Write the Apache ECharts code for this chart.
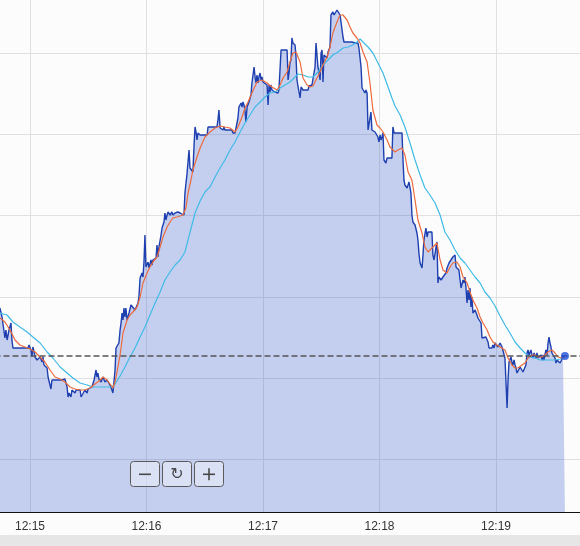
<!DOCTYPE html>
<html><head><meta charset="utf-8">
<script src="https://cdn.jsdelivr.net/npm/echarts@6/dist/echarts.min.js"></script>
<style>html,body{margin:0;padding:0;background:#fff}#c{width:580px;height:546px}</style>
</head><body><div id="c"></div>
<script>
// x values: seconds after 12:15:00 ; y values: price in chart units (no y labels shown)
const timeLabels = ['12:14','12:15','12:16','12:17','12:18','12:19','12:20'];

const priceT = [-15.5,-14.4,-12.9,-12.4,-11.8,-10.8,-9.8,-9.3,-8.8,-1.0,-0.5,0.5,1.0,1.5,2.1,2.6,3.6,4.1,5.2,6.2,6.7,7.2,8.8,9.3,9.8,10.8,11.3,12.9,13.9,14.4,16.5,18.0,19.1,19.6,20.1,21.1,21.6,22.1,23.2,23.7,25.8,26.3,27.3,28.3,29.4,29.9,30.9,31.9,33.0,34.0,34.5,35.0,35.5,36.6,37.6,38.6,39.7,41.2,42.2,42.7,43.8,44.3,45.3,45.8,46.4,46.9,47.4,47.9,48.4,48.9,49.4,50.0,51.0,52.0,53.0,54.1,55.1,55.6,56.1,56.7,57.2,57.7,58.2,58.7,59.2,59.7,60.8,61.3,62.3,62.8,63.3,63.9,64.9,65.4,65.9,66.4,67.5,68.0,68.5,69.0,69.5,70.0,70.6,71.1,72.1,73.1,73.6,74.7,76.2,77.3,78.3,79.3,79.8,80.9,81.4,81.9,82.4,82.9,83.4,83.9,84.5,85.0,85.5,86.0,86.5,87.6,91.2,91.7,96.3,96.8,97.3,97.9,98.4,99.4,99.9,100.4,104.0,104.5,105.6,106.6,107.1,107.6,108.7,109.2,109.7,110.2,110.7,111.2,111.8,112.3,112.8,113.8,114.3,114.8,115.4,115.9,116.4,116.9,117.4,117.9,118.5,119.0,119.5,120.0,121.0,122.1,122.6,123.1,123.6,124.1,124.6,125.1,126.2,127.2,127.7,128.2,129.3,132.4,132.9,133.4,133.9,134.4,134.9,135.4,136.5,137.0,137.5,138.0,138.5,139.1,139.6,140.6,143.2,143.7,144.7,145.2,145.7,146.8,147.3,147.8,148.3,148.8,149.4,149.9,150.4,150.9,151.4,152.4,153.0,153.5,154.0,154.5,155.0,155.5,156.0,156.6,157.6,158.1,158.6,159.1,159.7,160.2,160.7,161.2,161.7,165.8,167.4,168.9,169.4,170.0,170.5,171.0,172.0,172.5,173.0,173.6,174.1,175.1,175.6,176.1,177.7,178.7,179.2,179.7,180.3,180.8,181.3,181.8,182.3,183.3,183.9,186.4,186.9,187.5,191.6,192.1,192.6,193.1,194.2,194.7,195.2,195.7,196.2,196.7,197.2,198.3,199.3,199.8,200.3,200.9,201.9,202.4,202.9,203.9,204.5,205.0,207.0,207.5,208.1,209.1,209.6,210.1,210.6,211.7,212.2,212.7,213.7,214.2,214.8,215.8,216.3,216.8,217.8,218.9,219.4,220.4,220.9,221.5,222.0,222.5,223.0,223.5,224.0,224.5,225.1,225.6,226.1,226.6,227.1,227.6,228.1,229.2,230.2,230.7,231.2,232.3,232.8,234.8,235.9,236.4,237.9,238.4,239.0,239.5,240.5,241.0,242.1,243.1,244.1,244.6,245.1,245.7,246.2,246.7,247.7,248.2,248.7,249.3,249.8,250.3,250.8,251.8,252.4,253.4,253.9,254.9,255.4,256.0,256.5,257.0,258.0,258.5,259.0,259.6,260.6,261.1,261.6,262.1,263.2,263.7,264.2,264.7,265.7,266.3,266.8,267.3,267.8,268.3,268.8,269.3,270.4,270.9,271.4,271.9,272.4,273.0,274.0,274.5,275.5];
const priceV = [204,195,174,182,172,182,189,172,164,164,167,162,155,165,160,155,152,150,155,150,155,147,144,135,137,123,132,132,134,132,132,133,125,115,119,115,122,122,119,122,122,115,115,122,119,123,122,125,132,142,135,139,133,130,135,130,132,127,122,119,142,164,163,169,182,189,199,192,204,195,204,192,199,207,207,202,204,209,215,234,232,239,235,250,277,245,250,244,252,247,252,254,254,267,255,265,277,284,287,290,299,292,297,300,297,300,297,299,300,299,300,297,319,339,340,362,344,342,345,340,367,385,380,372,379,377,377,385,385,392,402,384,385,382,385,382,382,379,379,380,394,405,409,405,410,407,402,390,405,407,410,417,429,429,445,435,429,437,429,435,439,432,435,430,429,427,407,427,420,427,422,424,420,422,419,422,462,462,432,439,449,452,474,469,467,455,432,426,424,414,425,422,422,426,425,427,429,445,469,470,445,440,432,459,462,430,457,455,454,460,462,465,497,497,500,497,497,502,503,502,497,499,497,475,470,470,469,469,464,462,445,424,422,419,422,419,382,382,400,382,380,380,375,370,377,372,375,379,352,349,354,354,385,379,379,352,332,327,324,327,330,332,319,297,290,287,279,272,259,249,244,257,272,284,275,280,280,257,252,265,270,229,235,232,230,235,234,239,244,249,247,250,255,257,245,245,242,232,224,224,232,229,235,225,209,222,212,224,205,215,199,202,197,194,195,189,174,175,170,164,164,167,164,169,167,165,169,165,164,154,132,104,132,150,155,150,147,152,147,144,139,139,145,145,140,140,147,159,162,157,162,157,154,159,154,159,154,152,157,152,157,152,162,157,169,175,169,165,159,157,154,149,152,150,154,149,149,155,156];

// short moving-average line (orange)
const fastT = [-15.5,-12.9,-10.3,-7.7,-5.2,-2.6,0,2.6,5.2,7.7,10.3,12.9,15.5,18.0,20.6,23.2,25.8,28.3,30.9,33.5,36.1,37.6,39.7,41.2,42.7,43.8,44.8,46.4,47.9,50.0,51.5,53.0,55.1,56.7,58.2,60.3,61.8,63.3,65.4,67.0,68.5,70.6,72.1,73.6,75.7,77.3,78.8,80.3,81.4,82.9,83.9,86.0,87.6,90.1,92.7,95.3,97.9,100.4,103.0,105.6,107.1,109.2,110.7,112.3,114.3,116.9,119.5,122.1,124.6,127.2,128.8,130.3,132.4,133.9,135.4,137.0,138.0,139.1,140.6,142.7,144.2,145.7,147.8,149.4,150.9,153.0,154.5,156.0,158.1,159.7,161.2,163.3,164.8,166.3,168.4,170.0,171.5,173.6,175.1,176.6,178.7,180.3,181.8,183.9,185.4,188.0,189.5,191.6,193.1,194.7,196.7,198.3,199.8,201.9,203.4,205.0,207.0,209.6,211.2,212.7,214.8,216.3,217.8,219.9,221.5,223.0,225.1,226.6,228.1,230.2,231.8,233.3,235.4,236.9,238.4,240.5,242.1,244.6,246.2,248.2,249.8,251.3,253.4,254.9,256.5,258.5,260.1,261.6,263.7,265.2,266.8,268.8,270.4,271.9,274.0,275.5];
const fastV = [194,190,182,172,167,165,163,160,155,150,142,135,133,130,125,123,122,122,124,128,132,135,132,128,124,130,140,157,179,192,197,200,205,215,229,239,245,250,255,265,275,285,290,294,295,296,297,304,319,332,342,355,364,375,380,384,386,385,384,380,385,395,404,410,419,430,432,429,425,422,427,434,440,450,459,460,459,450,434,427,425,426,434,440,447,455,465,479,490,497,497,492,485,479,474,469,460,450,429,402,387,384,380,372,365,360,362,364,357,340,332,312,292,279,265,260,264,269,252,242,239,245,249,250,245,235,229,220,212,204,195,189,182,175,170,167,165,162,154,147,144,144,147,149,154,157,157,155,155,157,160,162,159,155,154,155];

// long moving-average line (cyan)
const slowT = [-15.5,-11.8,-8.8,-5.2,-1.5,1.5,5.2,8.8,11.8,15.5,19.1,22.1,25.8,29.4,32.4,36.1,39.7,42.2,43.8,46.4,48.9,51.5,54.1,56.7,59.2,61.8,64.4,67.0,69.5,72.1,74.7,77.3,79.8,81.4,83.4,85.0,87.6,90.1,92.7,95.3,97.9,100.4,103.0,105.6,108.2,110.7,113.3,115.9,118.5,121.0,123.6,126.2,128.8,131.3,133.9,136.5,138.0,140.6,143.2,145.7,148.3,150.9,153.5,156.0,158.6,161.2,163.8,166.3,168.4,170.0,171.5,174.1,176.6,179.2,181.8,184.4,186.4,188.0,190.6,193.1,195.7,198.3,200.9,203.4,206.0,208.6,211.2,213.7,216.3,218.9,221.5,224.0,226.6,229.2,231.8,234.3,236.9,239.5,242.1,244.6,247.2,249.8,252.4,254.9,257.5,260.1,262.7,265.2,267.8,270.4,273.0,274.5];
const slowV = [199,197,190,185,180,175,169,160,154,145,139,134,129,127,125,125,125,125,128,136,145,155,164,175,185,197,209,220,232,240,247,252,260,272,287,299,311,320,325,335,344,352,362,370,380,389,397,405,410,415,419,420,424,427,430,435,438,437,435,435,440,447,452,457,460,464,465,467,470,473,470,465,459,449,439,425,414,406,397,385,369,352,337,324,317,309,297,280,272,262,254,249,242,235,229,220,214,206,196,187,179,170,164,159,155,154,152,152,152,152,153,154];

const zip = (a, b) => a.map((t, i) => [t, b[i]]);
const price = zip(priceT, priceV);
const lastPoint = price[price.length - 1];

const chart = echarts.init(document.getElementById('c'), null, { renderer: 'canvas' });

const glyphColor = '#484848';
function buttonBox(x) {
  return { type: 'rect', x: x, y: 0, z: 100, shape: { x: 0.5, y: 0.5, width: 29, height: 25, r: 3 },
    style: { fill: 'rgba(236,240,250,0.55)', stroke: '#5a5a5a', lineWidth: 1 } };
}
function bar(x, y, w, h) {
  return { type: 'rect', x: x, y: y, z: 101, shape: { x: 0, y: 0, width: w, height: h }, style: { fill: glyphColor } };
}

chart.setOption({
  animation: false,
  backgroundColor: '#fcfcfc',
  grid: [
    { left: -86.5, right: -10, top: 0, bottom: 34, outerBoundsMode: 'none', containLabel: false },
    { left: 0, right: 0, top: 53, height: 406.5, outerBoundsMode: 'none', containLabel: false }
  ],
  xAxis: [
    { type: 'value', gridIndex: 0, min: -60, max: 288.41, interval: 60,
      axisLine: { show: true, onZero: false, lineStyle: { color: '#111', width: 1 } },
      axisTick: { show: false },
      axisLabel: { color: '#333', fontSize: 12, fontFamily: '"Liberation Sans", Arial, sans-serif', margin: 9,
        showMaxLabel: false,
        formatter: v => timeLabels[Math.round((v + 60) / 60)] || '' },
      splitLine: { show: true, lineStyle: { color: '#e0e0e0', width: 1 } } },
    { type: 'value', gridIndex: 1, min: 0, max: 1, show: false }
  ],
  yAxis: [
    { type: 'value', gridIndex: 0, min: 0, max: 512, show: false },
    { type: 'value', gridIndex: 1, min: 0, max: 5, interval: 1,
      axisLine: { show: false }, axisTick: { show: false }, axisLabel: { show: false },
      splitLine: { show: true, lineStyle: { color: '#e0e0e0', width: 1 } } }
  ],
  series: [
    { type: 'line', name: 'price', xAxisIndex: 0, yAxisIndex: 0, data: price,
      showSymbol: false, symbol: 'none', z: 2,
      lineStyle: { color: '#1d3faf', width: 1.4 },
      areaStyle: { color: 'rgba(50,90,210,0.28)', opacity: 1, origin: 'start' },
      markLine: { silent: true, symbol: ['none', 'none'], label: { show: false },
        lineStyle: { color: '#555', type: [6, 3], width: 1.5 },
        data: [{ yAxis: lastPoint[1] }] } },
    { type: 'line', name: 'slow', data: zip(slowT, slowV), showSymbol: false, symbol: 'none', z: 3,
      lineStyle: { color: '#3fbbe6', width: 1.2 } },
    { type: 'line', name: 'fast', data: zip(fastT, fastV), showSymbol: false, symbol: 'none', z: 4,
      lineStyle: { color: '#ec6a3c', width: 1.2 } },
    { type: 'scatter', name: 'last', data: [lastPoint], symbol: 'circle', symbolSize: 8, z: 5,
      itemStyle: { color: '#1f4fd6' } }
  ],
  graphic: [
    { type: 'rect', left: 0, top: 535, z: 100, shape: { width: 580, height: 11 }, style: { fill: '#e6e6e6' } },
    { type: 'group', left: 130, top: 461, z: 100,
      children: [
        buttonBox(0),
        bar(9, 12.5, 12, 1.6),
        buttonBox(32),
        { type: 'text', x: 47, y: 13.5, z: 101,
          style: { text: '\u21bb', fill: glyphColor, font: '16px "DejaVu Sans", sans-serif', align: 'center', verticalAlign: 'middle' } },
        buttonBox(64),
        bar(73, 12.5, 12, 1.6),
        bar(78.2, 7.3, 1.6, 12)
      ] }
  ]
});
</script></body></html>
